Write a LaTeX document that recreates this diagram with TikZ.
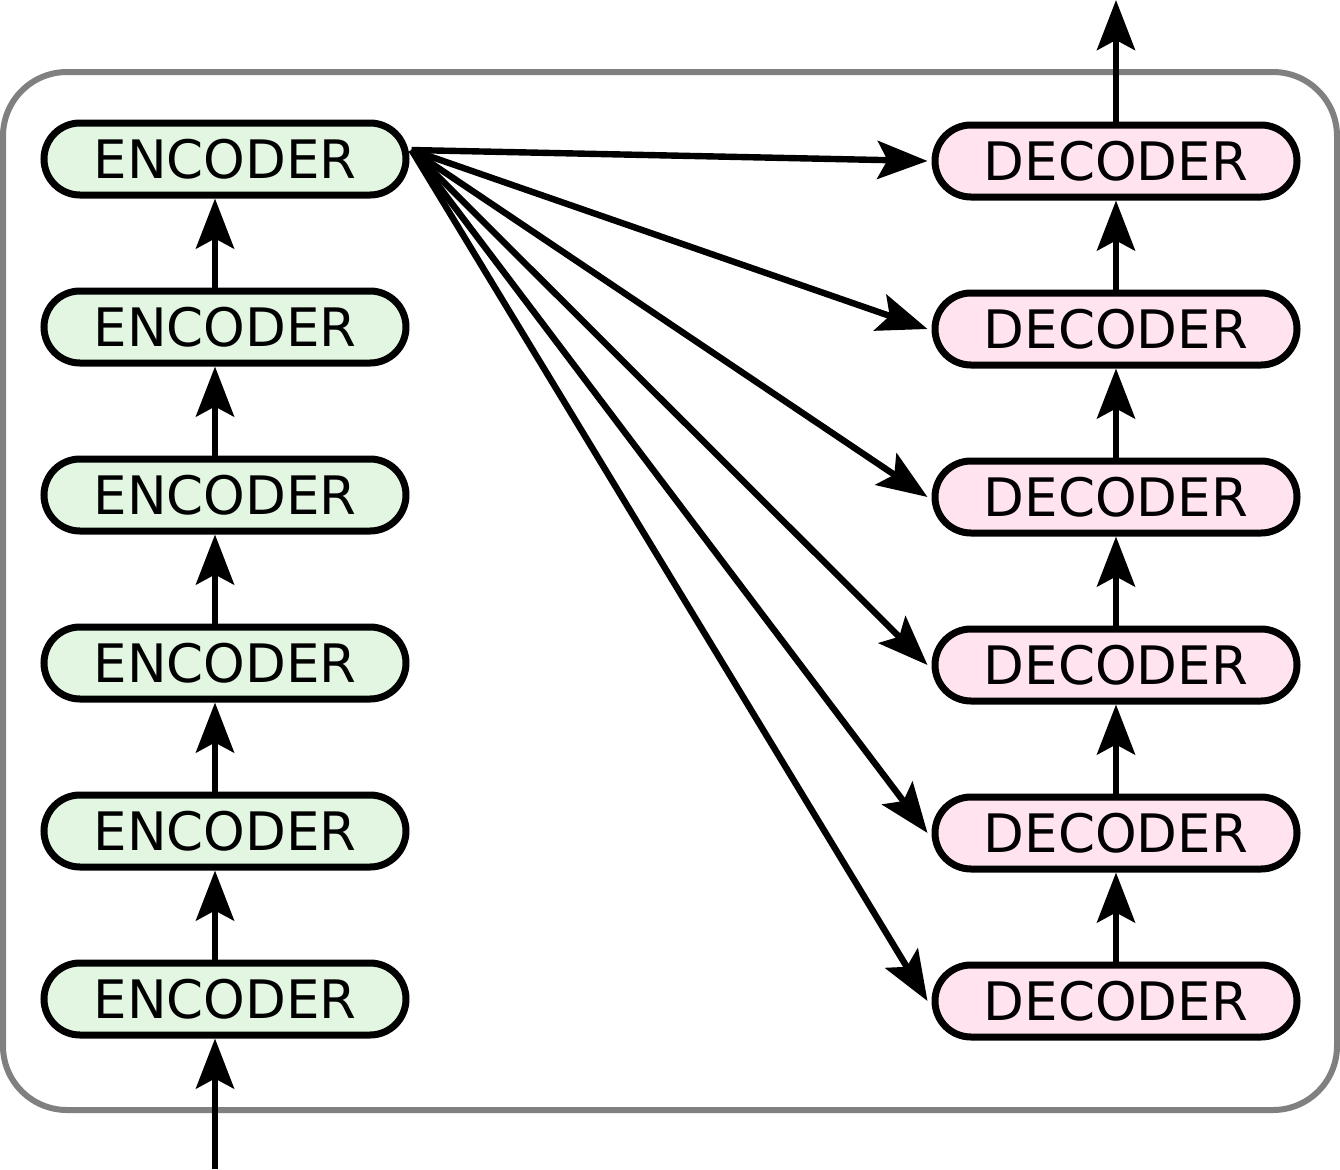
\documentclass[tikz,border=0pt]{standalone}
\usepackage{fontspec}
\setmainfont{DejaVu Sans}
\usetikzlibrary{arrows.meta, positioning}

\definecolor{encfill}{HTML}{E2F6E2}
\definecolor{decfill}{HTML}{FFE4F0}

\begin{document}
\begin{tikzpicture}
    [
        x=0.5pt, y=-0.5pt,
        node distance=84pt,
        >={Stealth[length=25pt, width=19pt, inset=5pt]},
        box/.style={draw, line width=3.5pt, rounded corners=18pt,
            minimum width=181pt, minimum height=36pt, inner sep=0pt,
            font=\fontsize{26.5pt}{30pt}\selectfont},
        encbox/.style={box, fill=encfill},
        decbox/.style={box, fill=decfill},
        frame/.style={draw=black!50, line width=3pt, rounded corners=32pt}
    ]
    \tikzstyle{line} = [draw, ->, line width=3.2pt]

    \useasboundingbox (0,0) rectangle (1340,1169);
    \path[frame] (3,72) rectangle (1337,1110);

    % encoder stack
    \node[encbox] (enc1) at (225,999) {ENCODER};
    \node[encbox, above of=enc1] (enc2) {ENCODER};
    \node[encbox, above of=enc2] (enc3) {ENCODER};
    \node[encbox, above of=enc3] (enc4) {ENCODER};
    \node[encbox, above of=enc4] (enc5) {ENCODER};
    \node[encbox, above of=enc5] (enc6) {ENCODER};

    % decoder stack
    \node[decbox] (dec1) at (1116,1001) {DECODER};
    \node[decbox, above of=dec1] (dec2) {DECODER};
    \node[decbox, above of=dec2] (dec3) {DECODER};
    \node[decbox, above of=dec3] (dec4) {DECODER};
    \node[decbox, above of=dec4] (dec5) {DECODER};
    \node[decbox, above of=dec5] (dec6) {DECODER};

    \coordinate (in) at (215,1169);
    \coordinate (out) at (1116,0);
    \coordinate (src) at ([xshift=1pt, yshift=4.5pt]enc6.east);

    \path[line] (in) -- ([xshift=-5pt]enc1.south);
    \foreach \i/\j in {1/2, 2/3, 3/4, 4/5, 5/6} {
        \path[line] ([xshift=-5pt]enc\i.north) -- ([xshift=-5pt]enc\j.south);
        \path[line] (dec\i.north) -- (dec\j.south);
    }
    \path[line] (dec6.north) -- (out);

    \foreach \i in {1,...,6}
        \path[line] (src) -- ([xshift=-2pt]dec\i.west);
\end{tikzpicture}
\end{document}
